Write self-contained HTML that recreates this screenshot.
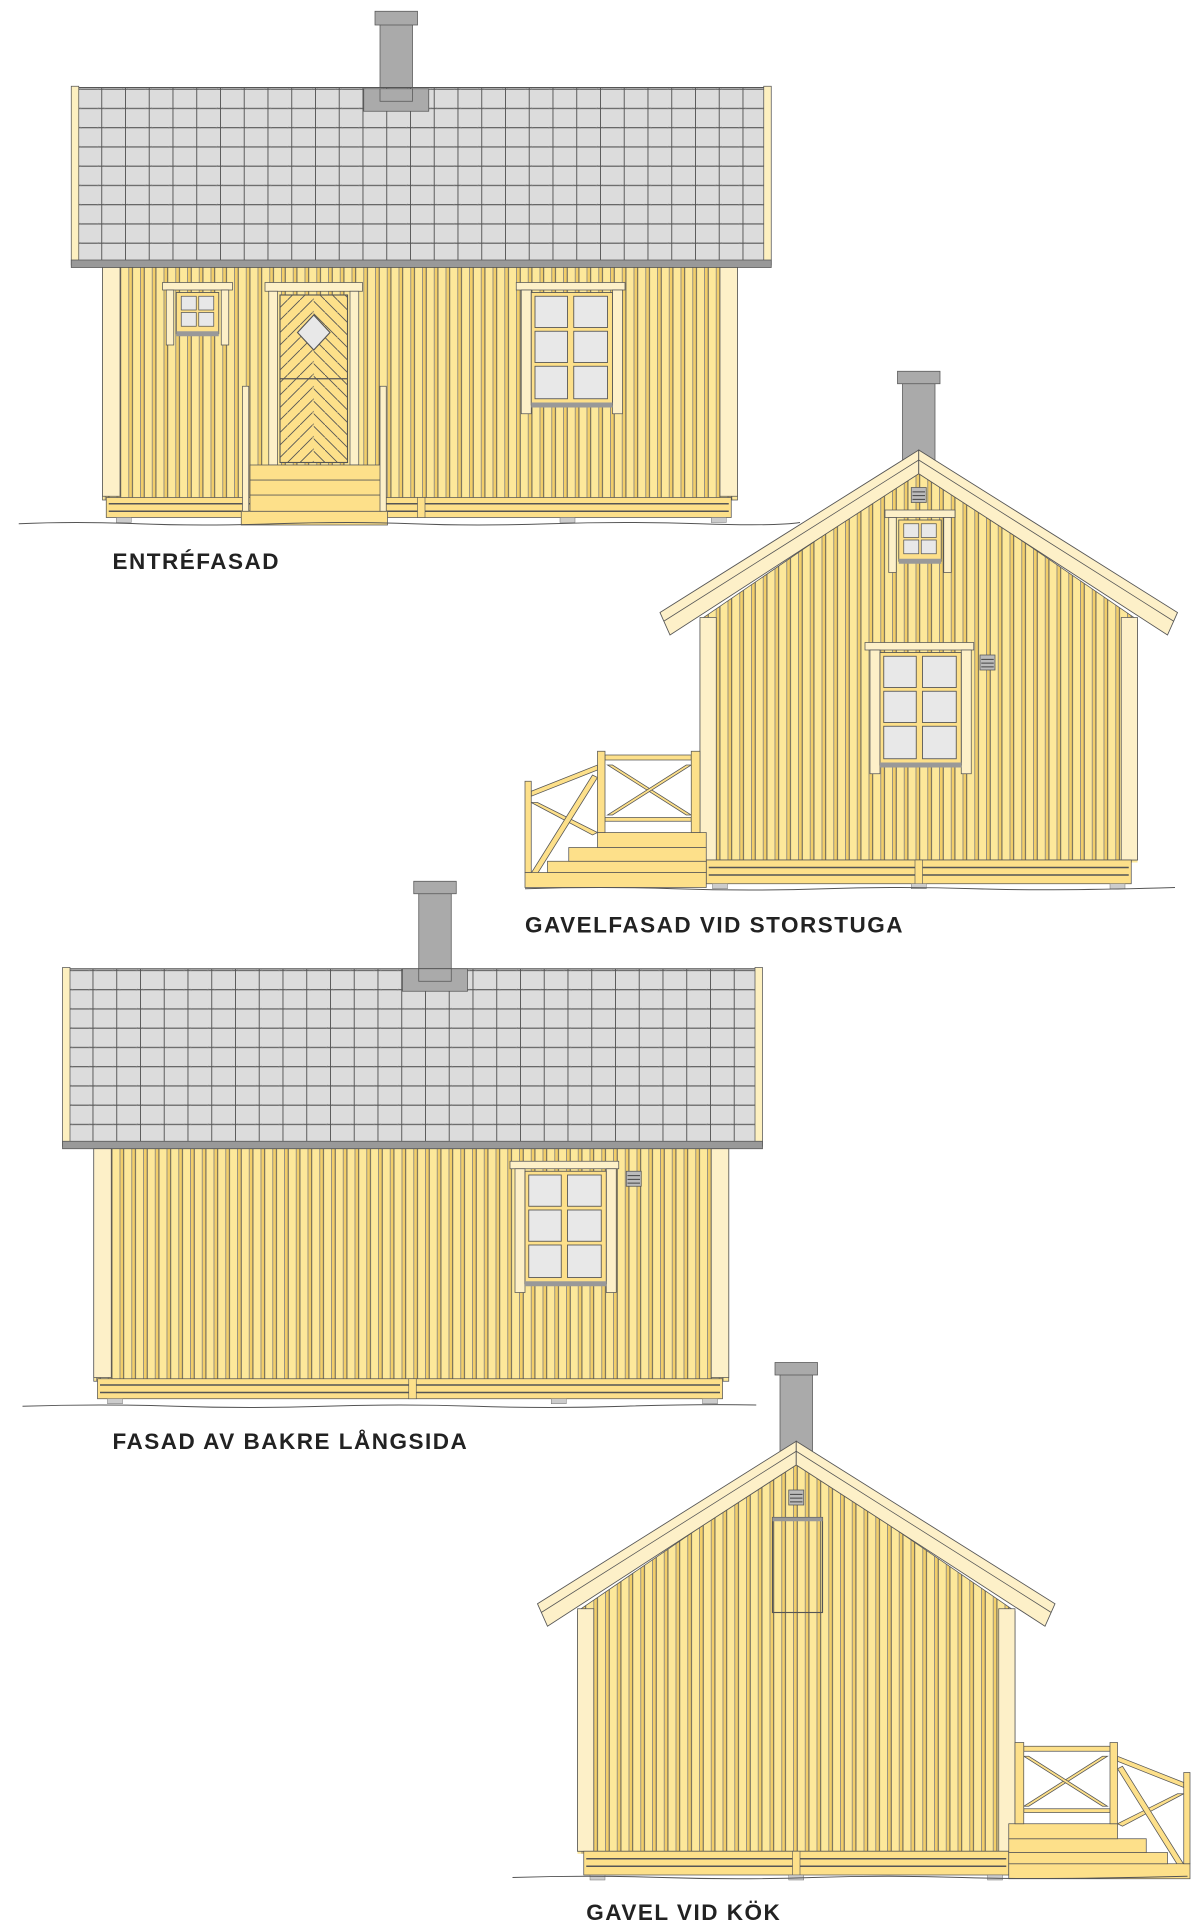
<!DOCTYPE html>
<html><head><meta charset="utf-8"><style>html,body{margin:0;padding:0;background:#fff}svg{display:block}text{font-family:"Liberation Sans",sans-serif;font-weight:bold;font-size:18px;fill:#222;letter-spacing:1.2px}</style></head>
<body>
<svg width="1200" height="1927" viewBox="0 0 960 1541.6" preserveAspectRatio="none" xmlns="http://www.w3.org/2000/svg">
<defs>
<pattern id="boards" width="9.4" height="20" patternUnits="userSpaceOnUse">
<rect width="9.4" height="20" fill="#fde89a"/>
<rect x="0" width="2.2" height="20" fill="#f2cf6a"/>
<rect x="2.2" width="0.7" height="20" fill="#4a4a4a"/>
<rect x="8.7" width="0.6" height="20" fill="#777"/>
</pattern>
<pattern id="tiles" width="19" height="15.4" patternUnits="userSpaceOnUse" x="62" y="72">
<rect width="19" height="15.4" fill="#dcdcdc"/>
<path d="M0.3 0 V15.4 M0 14.8 H19" stroke="#555" stroke-width="0.9" fill="none"/>
<path d="M2 14 Q2 15 3.5 15 M15.5 15 Q17 15 17 14" stroke="#777" stroke-width="0.5" fill="none"/>
</pattern>
<pattern id="herr" width="10" height="10" patternUnits="userSpaceOnUse">
<rect width="10" height="10" fill="#fde08a"/>
<path d="M-1 -1 L11 11" stroke="#555" stroke-width="0.7"/>
</pattern>
<pattern id="herr2" width="10" height="10" patternUnits="userSpaceOnUse">
<rect width="10" height="10" fill="#fde08a"/>
<path d="M11 -1 L-1 11" stroke="#555" stroke-width="0.7"/>
</pattern>

<g id="skirtL">
<rect x="85" y="398" width="500" height="16" fill="#fde08a" stroke="#555" stroke-width="0.6"/>
<path d="M87 403 H583 M87 409 H583" stroke="#555" stroke-width="1.2"/>
<rect x="334" y="398" width="6" height="16" fill="#fde08a" stroke="#555" stroke-width="0.5"/>
<rect x="93" y="414" width="12" height="4" fill="#ccc" stroke="#777" stroke-width="0.4"/>
<rect x="569" y="414" width="12" height="4" fill="#ccc" stroke="#777" stroke-width="0.4"/>
<rect x="448" y="414" width="12" height="4" fill="#ccc" stroke="#777" stroke-width="0.4"/>
</g>

<g id="longhouse">
<!-- roof -->
<rect x="62" y="70" width="550" height="140" fill="url(#tiles)" stroke="#555" stroke-width="0.8"/>
<rect x="57" y="69" width="6" height="143" fill="#fdf0c0" stroke="#555" stroke-width="0.6"/>
<rect x="611" y="69" width="6" height="143" fill="#fdf0c0" stroke="#555" stroke-width="0.6"/>
<rect x="57" y="208" width="560" height="6" fill="#999" stroke="#555" stroke-width="0.6"/>
<!-- wall -->
<rect x="82" y="214" width="508" height="186" fill="url(#boards)" stroke="#555" stroke-width="0.6"/>
<rect x="82" y="214" width="14" height="183" fill="#fdf0c8" stroke="#555" stroke-width="0.6"/>
<rect x="576" y="214" width="14" height="183" fill="#fdf0c8" stroke="#555" stroke-width="0.6"/>
<use href="#skirtL"/>
</g>

<g id="win6">
<!-- at origin: width 87 height 105 -->
<rect x="0" y="0" width="87" height="6" fill="#fdf0c8" stroke="#555" stroke-width="0.6"/>
<rect x="4" y="6" width="8" height="99" fill="#fdf0c8" stroke="#555" stroke-width="0.6"/>
<rect x="77" y="6" width="8" height="99" fill="#fdf0c8" stroke="#555" stroke-width="0.6"/>
<rect x="12" y="8" width="65" height="90" fill="#fde08a" stroke="#555" stroke-width="0.7"/>
<rect x="12" y="96" width="65" height="4" fill="#999"/>
<g fill="#e8e8e8" stroke="#555" stroke-width="0.7">
<rect x="15" y="11" width="26" height="25"/><rect x="46" y="11" width="27" height="25"/>
<rect x="15" y="39" width="26" height="25"/><rect x="46" y="39" width="27" height="25"/>
<rect x="15" y="67" width="26" height="26"/><rect x="46" y="67" width="27" height="26"/>
</g>
</g>

<g id="win4">
<rect x="0" y="0" width="56" height="6" fill="#fdf0c8" stroke="#555" stroke-width="0.6"/>
<rect x="3" y="6" width="6" height="44" fill="#fdf0c8" stroke="#555" stroke-width="0.6"/>
<rect x="47" y="6" width="6" height="44" fill="#fdf0c8" stroke="#555" stroke-width="0.6"/>
<rect x="11" y="8" width="34" height="33" fill="#fde08a" stroke="#555" stroke-width="0.7"/>
<rect x="11" y="39" width="34" height="4" fill="#999"/>
<g fill="#e8e8e8" stroke="#555" stroke-width="0.6">
<rect x="15" y="11" width="12" height="11"/><rect x="29" y="11" width="12" height="11"/>
<rect x="15" y="24" width="12" height="11"/><rect x="29" y="24" width="12" height="11"/>
</g>
</g>

<g id="vent">
<rect x="0" y="0" width="12" height="12" fill="#bbb" stroke="#555" stroke-width="0.6"/>
<path d="M1 3.5H11M1 6.5H11M1 9.5H11" stroke="#444" stroke-width="0.8"/>
</g>

<clipPath id="gclip"><polygon points="560,700 560,496 735,376 910,496 910,700"/></clipPath>
<g id="gable">
<rect x="722" y="300" width="26" height="80" fill="#aaa" stroke="#555" stroke-width="0.6"/>
<rect x="718" y="297" width="34" height="10" fill="#aaa" stroke="#555" stroke-width="0.6"/>
<rect x="560" y="370" width="350" height="320" fill="url(#boards)" clip-path="url(#gclip)"/>
<polygon points="560,688 560,496 735,376 910,496 910,688" fill="none" stroke="#555" stroke-width="0.6"/>
<rect x="560" y="494" width="13" height="194" fill="#fdf0c8" stroke="#555" stroke-width="0.6"/>
<rect x="897" y="494" width="13" height="194" fill="#fdf0c8" stroke="#555" stroke-width="0.6"/>
<!-- roof boards -->
<polygon points="528,490 735,360 735,379 536,508" fill="#fdf0c8" stroke="#555" stroke-width="0.7"/>
<polygon points="735,360 942,490 934,508 735,379" fill="#fdf0c8" stroke="#555" stroke-width="0.7"/>
<path d="M531 497 L735 368 L939 497" stroke="#555" stroke-width="0.6" fill="none"/>
<!-- skirt -->
<rect x="565" y="688" width="340" height="19" fill="#fde08a" stroke="#555" stroke-width="0.6"/>
<path d="M567 694 H903 M567 700 H903" stroke="#555" stroke-width="1.2"/>
<rect x="732" y="688" width="6" height="19" fill="#fde08a" stroke="#555" stroke-width="0.5"/>
<rect x="570" y="707" width="12" height="4" fill="#ccc" stroke="#777" stroke-width="0.4"/>
<rect x="729" y="707" width="12" height="4" fill="#ccc" stroke="#777" stroke-width="0.4"/>
<rect x="888" y="707" width="12" height="4" fill="#ccc" stroke="#777" stroke-width="0.4"/>
</g>

<g id="deck" stroke="#555" stroke-width="0.6" fill="#fde08a">
<!-- rails back -->
<g fill="#fde08a">
<polygon points="484,604 553,604 553,608 484,608"/>
<polygon points="484,654 553,654 553,657 484,657"/>
<polygon points="486,612 490,612 553,652 549,652"/>
<polygon points="549,612 553,612 490,652 486,652"/>
<polygon points="425,633 478,612 478,616 425,637"/>
<polygon points="425,642 430,642 478,666 474,668"/>
<polygon points="428,702 424,700 474,620 478,622"/>
</g>
<rect x="420" y="698" width="145" height="12"/>
<rect x="438" y="689" width="127" height="9"/>
<rect x="455" y="678" width="110" height="11"/>
<rect x="478" y="666" width="87" height="12"/>
<rect x="478" y="601" width="6" height="65"/>
<rect x="553" y="601" width="7" height="65"/>
<rect x="420" y="625" width="5" height="73"/>
</g>
</defs>

<!-- ENTRÉFASAD -->
<rect x="304" y="18" width="26" height="60" fill="#aaa" stroke="#555" stroke-width="0.6"/>
<rect x="300" y="9" width="34" height="11" fill="#aaa" stroke="#555" stroke-width="0.6"/>
<use href="#longhouse"/>
<rect x="291" y="71" width="52" height="18" fill="#aaa" stroke="#555" stroke-width="0.6"/>
<rect x="304" y="71" width="26" height="10" fill="#aaa" stroke="#555" stroke-width="0.6"/>
<use href="#win4" x="130" y="226"/>
<use href="#win6" x="413" y="226"/>
<!-- door -->
<rect x="212" y="226" width="78" height="7" fill="#fdf0c8" stroke="#555" stroke-width="0.6"/>
<rect x="215" y="233" width="7" height="139" fill="#fdf0c8" stroke="#555" stroke-width="0.6"/>
<rect x="280" y="233" width="7" height="139" fill="#fdf0c8" stroke="#555" stroke-width="0.6"/>
<rect x="224" y="236" width="27" height="134" fill="url(#herr2)"/>
<rect x="251" y="236" width="27" height="134" fill="url(#herr)"/>
<rect x="224" y="236" width="54" height="134" fill="none" stroke="#555" stroke-width="0.9"/>
<path d="M224 303 H278" stroke="#555" stroke-width="1"/>
<polygon points="251,252 264,266 251,280 238,266" fill="#e8e8e8" stroke="#555" stroke-width="0.9"/>
<!-- steps -->
<rect x="193" y="409" width="117" height="11" fill="#fde08a" stroke="#555" stroke-width="0.6"/>
<rect x="200" y="396" width="105" height="13" fill="#fde08a" stroke="#555" stroke-width="0.6"/>
<rect x="200" y="384" width="105" height="12" fill="#fde08a" stroke="#555" stroke-width="0.6"/>
<rect x="200" y="372" width="105" height="12" fill="#fde08a" stroke="#555" stroke-width="0.6"/>
<rect x="194" y="309" width="5" height="100" fill="#fdf0c8" stroke="#555" stroke-width="0.6"/>
<rect x="304" y="309" width="5" height="100" fill="#fdf0c8" stroke="#555" stroke-width="0.6"/>
<path d="M15 419 Q60 417 110 419 T220 419 T330 419 T440 419 T560 419 T640 418" stroke="#555" stroke-width="0.8" fill="none"/>
<text x="90" y="455">ENTRÉFASAD</text>

<!-- GAVELFASAD VID STORSTUGA -->
<use href="#gable"/>
<use href="#win4" x="708" y="408"/>
<use href="#vent" x="729" y="390"/>
<use href="#win6" x="692" y="514"/>
<use href="#vent" x="784" y="524"/>
<use href="#deck"/>
<path d="M420 711 Q480 709 540 711 T660 711 T780 711 T940 710" stroke="#555" stroke-width="0.8" fill="none"/>
<text x="420" y="746">GAVELFASAD VID STORSTUGA</text>

<!-- FASAD AV BAKRE LÅNGSIDA -->
<g transform="translate(-7,705)">
<rect x="342" y="8" width="26" height="70" fill="#aaa" stroke="#555" stroke-width="0.6"/>
<rect x="338" y="0" width="34" height="10" fill="#aaa" stroke="#555" stroke-width="0.6"/>
<use href="#longhouse"/>
<rect x="329" y="70" width="52" height="18" fill="#aaa" stroke="#555" stroke-width="0.6"/>
<rect x="342" y="70" width="26" height="10" fill="#aaa" stroke="#555" stroke-width="0.6"/>
<use href="#win6" x="415" y="224"/>
<use href="#vent" x="508" y="232"/>
</g>
<path d="M18 1125 Q80 1123 140 1125 T260 1125 T380 1125 T500 1125 T605 1124" stroke="#555" stroke-width="0.8" fill="none"/>
<text x="90" y="1159">FASAD AV BAKRE LÅNGSIDA</text>

<!-- GAVEL VID KÖK -->
<g transform="translate(-98,793)">
<use href="#gable"/>
<use href="#vent" x="729" y="399"/>
<rect x="716" y="421" width="40" height="76" fill="url(#boards)" stroke="#555" stroke-width="0.9"/>
<rect x="716" y="421" width="40" height="3" fill="#999"/>
<g transform="translate(1470,0) scale(-1,1)"><use href="#deck"/></g>
</g>
<path d="M410 1502 Q470 1500 530 1502 T650 1502 T770 1502 T950 1501" stroke="#555" stroke-width="0.8" fill="none"/>
<text x="469" y="1536">GAVEL VID KÖK</text>
</svg>
</body></html>
